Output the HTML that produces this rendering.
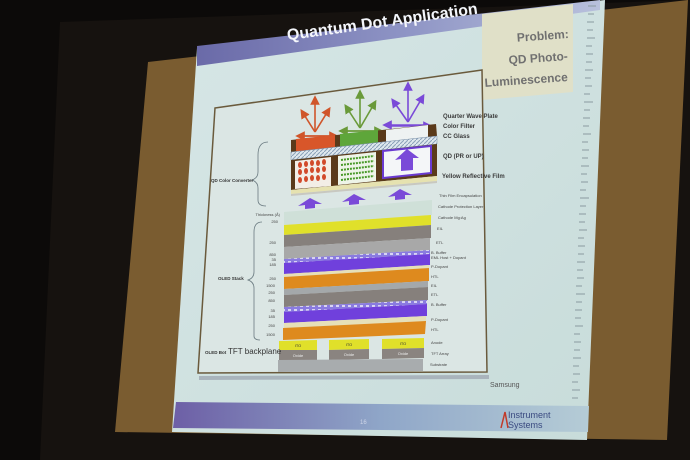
<!DOCTYPE html>
<html><head><meta charset="utf-8"><style>
html,body{margin:0;padding:0;background:#0c0a09;}
svg{display:block}
text{font-family:"Liberation Sans",sans-serif;}
</style></head><body>
<svg width="690" height="460" viewBox="0 0 690 460" xmlns="http://www.w3.org/2000/svg">
<defs>
<linearGradient id="hdr" x1="0" y1="0" x2="1" y2="0"><stop offset="0" stop-color="#6a6aa8"/><stop offset="0.5" stop-color="#8d93c4"/><stop offset="1" stop-color="#b8c0dc"/></linearGradient>
<linearGradient id="ftr" x1="0" y1="0" x2="1" y2="0"><stop offset="0" stop-color="#6d5fa6"/><stop offset="0.5" stop-color="#8fa6c8"/><stop offset="1" stop-color="#b5ccd6"/></linearGradient>
<linearGradient id="sl" x1="0" y1="0" x2="1" y2="1"><stop offset="0" stop-color="#d6e6e6"/><stop offset="1" stop-color="#c8dcda"/></linearGradient>
<pattern id="hatch" width="4" height="4" patternUnits="userSpaceOnUse"><rect width="4" height="4" fill="#dfe8ee"/><path d="M0 4L4 0" stroke="#8aa0b8" stroke-width="1"/></pattern>
<pattern id="dash" width="6" height="4" patternUnits="userSpaceOnUse"><rect width="6" height="4" fill="#8a7be0"/><rect width="3" height="2" y="1" fill="#d8d4f4"/></pattern>
<marker id="ao" markerWidth="6" markerHeight="6" refX="3" refY="3" orient="auto"><path d="M0 0L6 3L0 6z" fill="#d0552a"/></marker>
<marker id="ag" markerWidth="6" markerHeight="6" refX="3" refY="3" orient="auto"><path d="M0 0L6 3L0 6z" fill="#6a9a3a"/></marker>
<marker id="ap" markerWidth="6" markerHeight="6" refX="3" refY="3" orient="auto"><path d="M0 0L6 3L0 6z" fill="#7a4ad8"/></marker>
</defs>
<rect width="690" height="460" fill="#0c0a09"/>
<polygon points="60,22 690,0 690,460 40,460" fill="#16120f"/>
<polygon points="148,62 688,0 667,440 115,432" fill="#7a5c30"/>
<polygon points="197,48 605,0 587,440 172,432" fill="url(#sl)"/>
<polygon points="197,46 600,0 600,10 197,66" fill="url(#hdr)"/>
<text x="383" y="27" font-size="16" font-weight="bold" fill="#f4f6fb" text-anchor="middle" transform="rotate(-8 383 27)">Quantum Dot Application</text>
<polygon points="176,402 589,406 588,432 173,428" fill="url(#ftr)"/>
<text x="360" y="424" font-size="6" fill="#cfd6e8">16</text>
<text x="508" y="418" font-size="9" fill="#3a4a80">Instrument</text>
<text x="508" y="428" font-size="9" fill="#3a4a80">Systems</text>
<path d="M501 428 L505 412 L508 428" stroke="#c23a2a" stroke-width="1.5" fill="none"/>
<g stroke="#8a9aa0" stroke-width="1">
<path d="M588 6h8M588 14h6M587 22h7M587 30h6M587 38h8M586 46h6M586 54h7M586 62h6M585 70h8M585 78h6M585 86h7M584 94h6M584 102h9M584 110h6M583 118h7M583 126h6M583 134h8M582 142h6M582 150h7M582 158h6M581 166h8M581 174h6M581 182h7M580 190h6M580 198h9M580 206h6M579 214h7M579 222h6M579 230h8M578 238h6M578 246h7M578 254h6M577 262h8M577 270h6M577 278h7M576 286h6M576 294h9M576 302h6M575 310h7M575 318h6M575 326h8M574 334h6M574 342h7M574 350h6M573 358h8M573 366h6M573 374h7M572 382h6M572 390h8M572 398h6"/>
</g>
<polygon points="482,14 573,4 573,92 482,100" fill="#e0e0c8"/>
<g fill="#707070" font-weight="bold" font-size="12" text-anchor="end">
<text x="569" y="38" transform="rotate(-4 569 38)">Problem:</text>
<text x="568" y="60" transform="rotate(-4 568 60)">QD Photo-</text>
<text x="568" y="81" transform="rotate(-4 568 81)">Luminescence</text>
</g>
<polygon points="199,376 489,375 489,379 199,380" fill="#a9b4bc"/>
<polygon points="215,108 482,70 487,372 198,373" fill="#dbe6e4" stroke="#6a5a3c" stroke-width="1.5"/>
<g stroke-width="1.6" fill="none">
<g stroke="#d0552a"><path d="M315 132V100" marker-end="url(#ao)"/><path d="M315 132L303 113" marker-end="url(#ao)"/><path d="M315 132L328 111" marker-end="url(#ao)"/><path d="M300 136H334" marker-end="url(#ao)"/><path d="M334 136H300" marker-end="url(#ao)"/></g>
<g stroke="#6a9a3a"><path d="M360 128V94" marker-end="url(#ag)"/><path d="M360 128L347 108" marker-end="url(#ag)"/><path d="M360 128L374 104" marker-end="url(#ag)"/><path d="M343 131H379" marker-end="url(#ag)"/><path d="M379 131H343" marker-end="url(#ag)"/></g>
<g stroke="#7a4ad8"><path d="M408 122V86" marker-end="url(#ap)"/><path d="M408 122L394 102" marker-end="url(#ap)"/><path d="M408 122L422 98" marker-end="url(#ap)"/><path d="M387 126H428" marker-end="url(#ap)"/><path d="M428 125H387" marker-end="url(#ap)"/></g>
</g>
<polygon points="291,140 436,124 437,136 291,152" fill="#5a3a1a"/>
<polygon points="296,139 335,135 335,148 296,152" fill="#d8562a"/>
<polygon points="340,134 378,130 378,143 340,147" fill="#5ea63a"/>
<polygon points="386,130 428,125 428,138 386,142" fill="#eef2f2"/>
<polygon points="291,152 437,136 437,144 291,160" fill="url(#hatch)" stroke="#7a90a8" stroke-width="0.5"/>
<polygon points="291,160 437,144 437,176 291,190" fill="#5a3a1a"/>
<polygon points="295,161 331,157 331,186 295,189" fill="#f3eee6"/>
<g fill="#d24a2a">
<ellipse cx="300" cy="165" rx="2" ry="3"/><ellipse cx="306" cy="164" rx="2" ry="3"/><ellipse cx="312" cy="163" rx="2" ry="3"/><ellipse cx="318" cy="163" rx="2" ry="3"/><ellipse cx="324" cy="162" rx="2" ry="3"/>
<ellipse cx="300" cy="172" rx="2" ry="3"/><ellipse cx="306" cy="171" rx="2" ry="3"/><ellipse cx="312" cy="170" rx="2" ry="3"/><ellipse cx="318" cy="170" rx="2" ry="3"/><ellipse cx="324" cy="169" rx="2" ry="3"/>
<ellipse cx="300" cy="180" rx="2" ry="3"/><ellipse cx="306" cy="179" rx="2" ry="3"/><ellipse cx="312" cy="178" rx="2" ry="3"/><ellipse cx="318" cy="178" rx="2" ry="3"/><ellipse cx="324" cy="177" rx="2" ry="3"/>
</g>
<polygon points="338,156 376,152 376,181 338,185" fill="#eef4e8"/>
<g stroke="#4a9a2a" stroke-width="2" stroke-dasharray="2 1">
<path d="M341 160L374 156M341 165L374 161M341 170L374 166M341 175L374 171M341 180L374 176"/>
</g>
<polygon points="383,151 431,146 431,173 383,178" fill="#f4f6f8" stroke="#6a3ad0" stroke-width="2"/>
<polygon points="407,149 419,158 413,158 413,170 401,171 401,159 395,160" fill="#7a4ad8"/>
<polygon points="291,190 437,176 437,181 291,194" fill="#e6e2b0"/>
<polygon points="291,194 437,181 437,183 291,196" fill="#c8c8c0"/>
<g fill="#7a4ad8">
<polygon points="310,198 322,204 315,204 315,208 305,209 305,205 298,206"/>
<polygon points="354,194 366,200 359,200 359,204 349,205 349,201 342,202"/>
<polygon points="400,189 412,195 405,195 405,199 395,200 395,196 388,197"/>
</g>
<polygon points="284,212 432,200 432,215 284,225" fill="#cfe0d8"/>
<polygon points="284,225 431,215 431,225 284,235" fill="#e0e02a"/>
<polygon points="284,235 431,225 431,238 284,247" fill="#86807c"/>
<polygon points="284,247 430,238 430,250 284,259" fill="#a8a8a8"/>
<polygon points="284,259 430,250 430,254 284,263" fill="url(#dash)"/>
<polygon points="284,263 430,254 430,265 284,274" fill="#7040dc"/>
<polygon points="284,274 429,265 429,268 284,277" fill="#e6e0b8"/>
<polygon points="284,277 429,268 429,281 284,289" fill="#de8a1e"/>
<polygon points="284,289 428,281 428,287 284,295" fill="#a4a8aa"/>
<polygon points="284,295 428,287 428,300 284,307" fill="#86807c"/>
<polygon points="284,307 427,300 427,304 284,312" fill="url(#dash)"/>
<polygon points="284,312 427,304 427,316 284,323" fill="#7040dc"/>
<polygon points="284,323 426,316 426,321 284,328" fill="#e6e0b8"/>
<polygon points="283,328 426,321 425,334 283,340" fill="#de8a1e"/>
<polygon points="279,341 317,340 317,350 279,350" fill="#e0e02a"/>
<polygon points="329,340 369,339 369,349 329,350" fill="#e0e02a"/>
<polygon points="382,339 424,338 424,348 382,349" fill="#e0e02a"/>
<polygon points="279,350 317,350 317,360 279,360" fill="#8a8480"/>
<polygon points="329,350 369,349 369,359 329,360" fill="#8a8480"/>
<polygon points="382,349 424,348 424,358 382,359" fill="#8a8480"/>
<polygon points="278,360 423,359 423,371 278,372" fill="#a8acae"/>
<g font-size="4" fill="#333" text-anchor="middle">
<text x="298" y="347">ITO</text><text x="349" y="346">ITO</text><text x="403" y="345">ITO</text>
<text x="298" y="357" fill="#eee">Oxide</text><text x="349" y="356" fill="#eee">Oxide</text><text x="403" y="355" fill="#eee">Oxide</text>
</g>
<g fill="#3a3a3a" font-weight="bold" font-size="6">
<text x="443" y="118">Quarter Wave Plate</text>
<text x="443" y="128">Color Filter</text>
<text x="443" y="138">CC Glass</text>
<text x="443" y="158">QD (PR or UP)</text>
<text x="442" y="178">Yellow Reflective Film</text>
</g>
<g fill="#444" font-size="4">
<text x="439" y="197">Thin Film Encapsulation</text>
<text x="438" y="208">Cathode Protection Layer</text>
<text x="438" y="219">Cathode Mg:Ag</text>
<text x="437" y="230">EIL</text>
<text x="436" y="244">ETL</text>
<text x="431" y="254">B. Buffer</text>
<text x="431" y="259">EML Host + Dopant</text>
<text x="431" y="268">P-Dopant</text>
<text x="431" y="278">HTL</text>
<text x="431" y="287">EIL</text>
<text x="431" y="296">ETL</text>
<text x="431" y="306">B. Buffer</text>
<text x="431" y="321">P-Dopant</text>
<text x="431" y="331">HTL</text>
<text x="431" y="344">Anode</text>
<text x="431" y="355">TFT Array</text>
<text x="430" y="366">Substrate</text>
</g>
<g fill="#444" font-size="4" text-anchor="end">
<text x="280" y="216">Thickness (Å)</text>
<text x="278" y="223">250</text><text x="276" y="244">250</text><text x="276" y="256">850</text>
<text x="276" y="261">35</text><text x="276" y="266">185</text><text x="276" y="280">250</text>
<text x="275" y="287">1500</text><text x="275" y="294">250</text><text x="275" y="302">850</text>
<text x="275" y="312">35</text><text x="275" y="318">185</text><text x="275" y="327">250</text><text x="275" y="336">1500</text>
</g>
<g fill="none" stroke="#6a7a80" stroke-width="0.8">
<path d="M268 142 Q258 142 258 155 V172 Q258 178 252 180 Q258 182 258 188 V200 Q258 206 266 206"/>
<path d="M262 222 Q254 222 254 232 V272 Q254 278 248 280 Q254 282 254 288 V336 Q254 340 260 340"/>
</g>
<g fill="#333" font-weight="bold" font-size="4.5">
<text x="211" y="182">QD Color Converter</text>
<text x="218" y="280">OLED Stack</text>
<text x="205" y="354">OLED Bot</text>
</g>
<text x="228" y="354" font-size="8" fill="#333">TFT backplane</text>
<text x="490" y="387" font-size="7" fill="#555">Samsung</text>
</svg>
</body></html>
